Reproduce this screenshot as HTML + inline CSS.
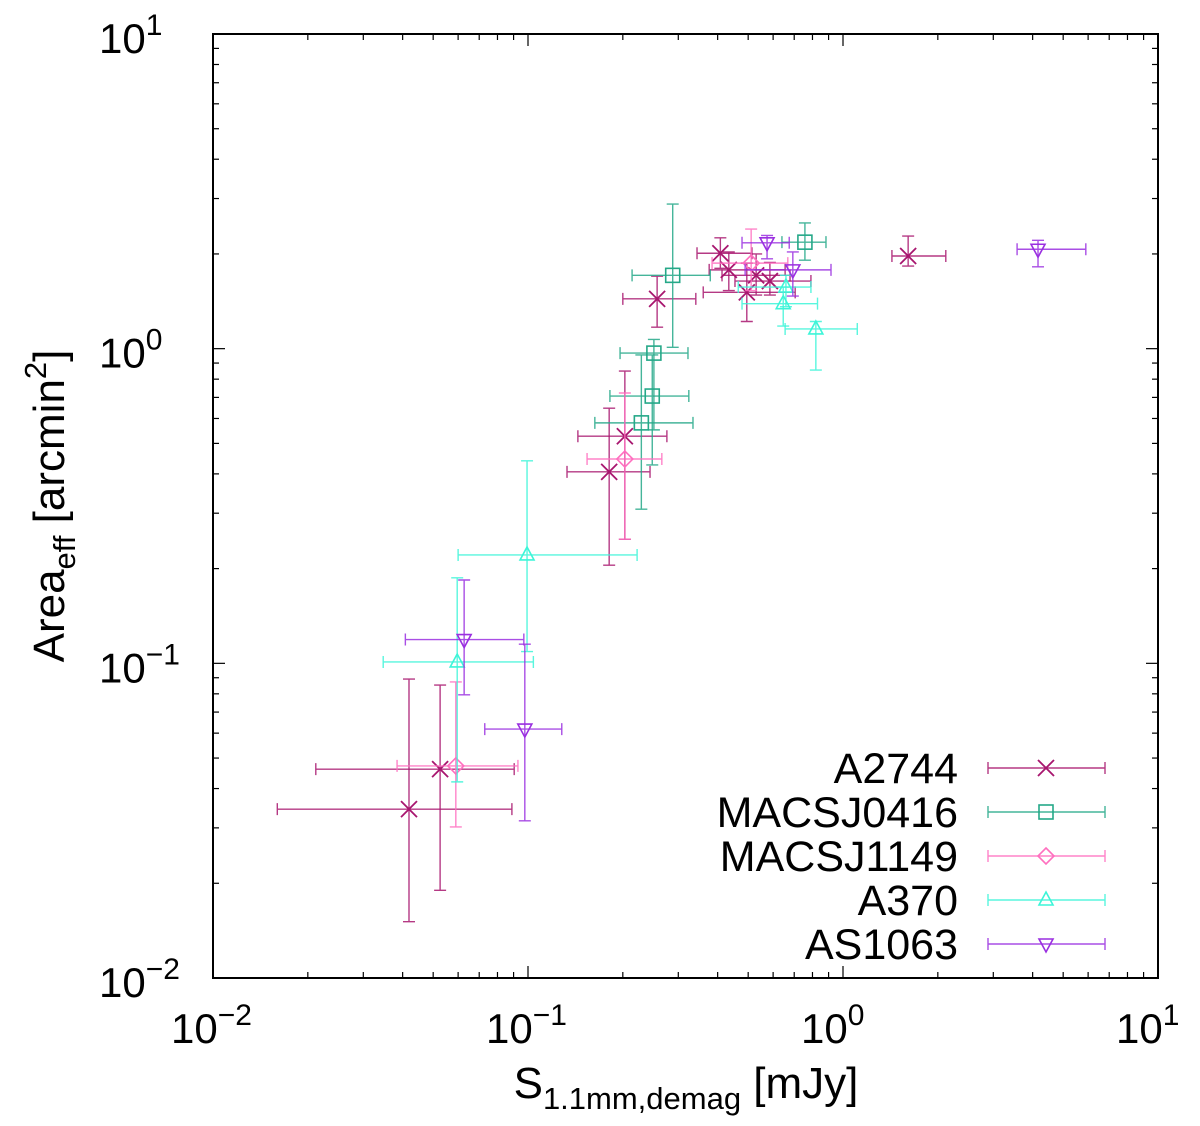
<!DOCTYPE html>
<html><head><meta charset="utf-8"><style>
html,body{margin:0;padding:0;background:#fff}
svg{display:block;font-family:"Liberation Sans",Arial,sans-serif}
</style></head><body>
<svg id="chart" width="1200" height="1126" viewBox="0 0 1200 1126" xmlns="http://www.w3.org/2000/svg">
<rect width="1200" height="1126" fill="#fff"/>
<g id="ticks"></g>
<g id="labels"></g>
<g id="series"></g>
<g id="legend"></g>
<rect x="213" y="34" width="945" height="944" fill="none" stroke="#000" stroke-width="2"/>
<text x="686" y="1098" font-size="44" text-anchor="middle">S<tspan font-size="31" dy="11">1.1mm,demag</tspan><tspan dy="-11"> [mJy]</tspan></text>
<text transform="translate(64,506) rotate(-90)" font-size="44" text-anchor="middle">Area<tspan font-size="31" dy="11">eff</tspan><tspan dy="-11"> [arcmin</tspan><tspan font-size="31" dy="-18">2</tspan><tspan dy="18">]</tspan></text>
</svg>
<script>
const seriesNames = ["A2744","MACSJ0416","MACSJ1149","A370","AS1063"];
const seriesColors = ["#a8166f","#25a888","#ff6fbf","#3cf5d8","#9a2fe0"];
const seriesMarkers = ["x","square","diamond","up","down"];
// each point: [x, xlow, xhigh, y, ylow, yhigh]
const a2744 = [
 [0.0419,0.0160,0.0889,0.0344,0.0151,0.0891],
 [0.0526,0.0212,0.0904,0.0461,0.0190,0.0853],
 [0.181,0.133,0.244,0.406,0.205,0.647],
 [0.203,0.144,0.276,0.527,0.248,0.849],
 [0.257,0.200,0.341,1.44,1.17,1.70],
 [0.408,0.344,0.514,2.01,1.80,2.25],
 [0.434,0.376,0.655,1.78,1.53,2.03],
 [0.530,0.413,0.679,1.71,1.48,2.00],
 [0.586,0.454,0.791,1.64,1.48,1.88],
 [0.495,0.360,0.705,1.51,1.22,1.87],
 [1.61,1.43,2.12,1.97,1.83,2.28]
];
const macs0416 = [
 [0.288,0.214,0.379,1.71,1.01,2.88],
 [0.251,0.196,0.322,0.968,0.552,1.07],
 [0.248,0.182,0.324,0.707,0.427,0.955],
 [0.229,0.163,0.334,0.581,0.309,0.955],
 [0.757,0.640,0.883,2.18,1.91,2.51]
];
const macs1149 = [
 [0.0590,0.0384,0.0929,0.0472,0.0302,0.0873],
 [0.203,0.154,0.266,0.446,0.248,0.723],
 [0.511,0.384,0.668,1.87,1.53,2.40]
];
const a370 = [
 [0.0596,0.0347,0.104,0.101,0.0420,0.187],
 [0.0993,0.060,0.222,0.221,0.109,0.440],
 [0.659,0.465,0.791,1.57,1.36,1.71],
 [0.646,0.478,0.830,1.39,1.18,1.57],
 [0.820,0.655,1.11,1.155,0.855,1.22]
];
const as1063 = [
 [0.0627,0.0408,0.097,0.119,0.0794,0.184],
 [0.0977,0.0729,0.128,0.0618,0.0316,0.115],
 [0.574,0.478,0.675,2.17,1.93,2.29],
 [0.693,0.489,0.916,1.78,1.47,2.03],
 [4.16,3.57,5.90,2.07,1.82,2.21]
];
const allSeries = [a2744,macs0416,macs1149,a370,as1063];
const xTickExps = [-2,-1,0,1];
const yTickExps = [-2,-1,0,1];

const X0=213,X1=1158,Y0=978,Y1=34;
const xMin=-2,xMax=1,yMin=-2,yMax=1;
function sx(v){return X0+(Math.log10(v)-xMin)/(xMax-xMin)*(X1-X0);}
function sy(v){return Y0-(Math.log10(v)-yMin)/(yMax-yMin)*(Y0-Y1);}
const NS="http://www.w3.org/2000/svg";
function mk(tag,attrs,parent){const e=document.createElementNS(NS,tag);for(const k in attrs)e.setAttribute(k,attrs[k]);parent.appendChild(e);return e;}

const tg=document.getElementById('ticks');
for(let d=xMin;d<xMax;d++){for(let m=1;m<=9;m++){const v=m*Math.pow(10,d);const x=sx(v);const L=m===1?12:6;
 const t1=mk('line',{x1:x,y1:Y0,x2:x,y2:Y0-L,stroke:'#000','stroke-width':1.2},tg);
 
 
 const t2=mk('line',{x1:x,y1:Y1,x2:x,y2:Y1+L,stroke:'#000','stroke-width':1.2},tg);
 
 }}
for(let d=yMin;d<yMax;d++){for(let m=1;m<=9;m++){const v=m*Math.pow(10,d);const y=sy(v);const L=m===1?12:6;
 const t1=mk('line',{x1:X0,y1:y,x2:X0+L,y2:y,stroke:'#000','stroke-width':1.2},tg);
 
 
 const t2=mk('line',{x1:X1,y1:y,x2:X1-L,y2:y,stroke:'#000','stroke-width':1.2},tg);
 
 }}

const lg=document.getElementById('labels');
function expLabel(x,y,e,anchor,name){
 const t=mk('text',{x:x,y:y,'font-size':42,'text-anchor':anchor},lg);
 
 
 t.innerHTML='10<tspan font-size="30" dy="-18">'+(e<0?'\u2212'+(-e):e)+'</tspan>';
}
xTickExps.forEach(e=>{const x=sx(Math.pow(10,e));expLabel(x-42,1043,e,'start','x-tick-label');});
yTickExps.forEach(e=>{const y=sy(Math.pow(10,e));expLabel(99,y+19,e,'start','y-tick-label');});

function marker(g,type,x,y,c){
 const s=8;let el;
 if(type==='x'){el=mk('path',{d:`M${x-s} ${y-s}L${x+s} ${y+s}M${x-s} ${y+s}L${x+s} ${y-s}`,stroke:c,'stroke-width':1.8,fill:'none'},g);}
 else if(type==='square'){el=mk('rect',{x:x-7,y:y-7,width:14,height:14,stroke:c,'stroke-width':1.6,fill:'none'},g);}
 else if(type==='diamond'){el=mk('path',{d:`M${x} ${y-8}L${x+8} ${y}L${x} ${y+8}L${x-8} ${y}Z`,stroke:c,'stroke-width':1.6,fill:'none'},g);}
 else if(type==='up'){el=mk('path',{d:`M${x} ${y-8}L${x+7} ${y+5}L${x-7} ${y+5}Z`,stroke:c,'stroke-width':1.6,fill:'none'},g);}
 else {el=mk('path',{d:`M${x} ${y+8}L${x+7} ${y-5}L${x-7} ${y-5}Z`,stroke:c,'stroke-width':1.6,fill:'none'},g);}
 
 
}
function errbar(g,x,y,xl,xh,yl,yh,c){
 const cap=6;
 const p=mk('path',{d:`M${xl} ${y}L${xh} ${y}M${xl} ${y-cap}L${xl} ${y+cap}M${xh} ${y-cap}L${xh} ${y+cap}M${x} ${yl}L${x} ${yh}M${x-cap} ${yl}L${x+cap} ${yl}M${x-cap} ${yh}L${x+cap} ${yh}`,stroke:c,'stroke-width':1.4,fill:'none','stroke-opacity':0.85},g);
 
 
}
const sg=document.getElementById('series');
allSeries.forEach((data,i)=>{
 const g=mk('g',{},sg);
 
 
 data.forEach(p=>{
  const x=sx(p[0]),y=sy(p[3]);
  errbar(g,x,y,sx(p[1]),sx(p[2]),sy(p[4]),sy(p[5]),seriesColors[i]);
  marker(g,seriesMarkers[i],x,y,seriesColors[i]);
 });
});
const leg=document.getElementById('legend');
seriesNames.forEach((n,i)=>{
 const y=768+i*44;
 const g=mk('g',{},leg);
 
 
 const t=mk('text',{x:958,y:y+15,'font-size':43,'text-anchor':'end'},g);
 t.textContent=n;
 
 
 errbar(g,1046,y,988,1105,y,y,seriesColors[i]);
 marker(g,seriesMarkers[i],1046,y,seriesColors[i]);
});
</script>
</body></html>
